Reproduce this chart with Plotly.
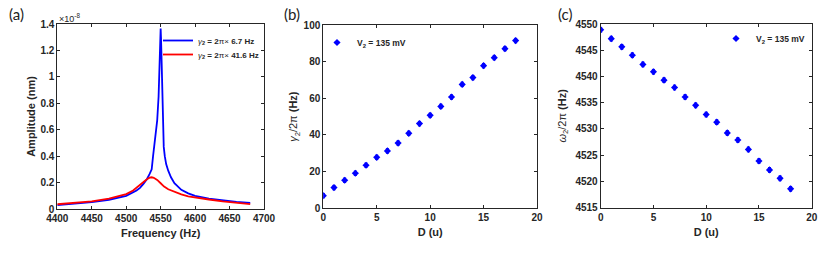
import plotly.graph_objects as go

# ---------------- data ----------------
# (a) amplitude spectra, amplitude in units of 1e-8 nm
freq_blue = [4400, 4425, 4450, 4475, 4500, 4515, 4520, 4525, 4530, 4534, 4537, 4539,
             4541, 4543, 4545, 4547, 4548.5, 4549.5, 4550, 4550.5, 4551.5, 4552.5,
             4553.5, 4554.5, 4556, 4558, 4561, 4565, 4570, 4580, 4590, 4600, 4620,
             4640, 4660, 4680]
amp_blue = [0.030, 0.040, 0.052, 0.070, 0.100, 0.140, 0.160, 0.190, 0.225, 0.265, 0.300, 0.400,
            0.480, 0.580, 0.670, 0.850, 1.100, 1.300, 1.365, 1.300, 1.100, 0.850,
            0.650, 0.470, 0.400, 0.340, 0.290, 0.240, 0.195, 0.145, 0.118, 0.100, 0.079,
            0.064, 0.053, 0.046]
freq_red = [4400, 4425, 4450, 4475, 4500, 4510, 4520, 4525, 4530, 4534, 4537, 4540,
            4545, 4550, 4555, 4561, 4570, 4580, 4590, 4600, 4620, 4640, 4660, 4680]
amp_red = [0.036, 0.045, 0.058, 0.078, 0.113, 0.140, 0.185, 0.205, 0.225, 0.237, 0.240, 0.236,
           0.220, 0.195, 0.170, 0.149, 0.128, 0.110, 0.096, 0.087, 0.072, 0.058, 0.046, 0.037]
label_blue = "<i>γ</i><b><sub>2</sub> = 2</b>π×<b> 6.7 Hz</b>"
label_red = "<i>γ</i><b><sub>2</sub> = 2</b>π×<b> 41.6 Hz</b>"

# (b), (c) versus D
D = [0, 1, 2, 3, 4, 5, 6, 7, 8, 9, 10, 11, 12, 13, 14, 15, 16, 17, 18]
gamma2 = [6.9, 11.3, 15.3, 19.1, 23.5, 27.8, 31.3, 35.6, 40.9, 46.2, 50.7, 55.6, 60.7,
          67.6, 71.3, 77.8, 82.2, 87.1, 91.5]
gamma2_err = [1.2] * 19
omega2 = [4548.9, 4547.2, 4545.65, 4544.05, 4542.3, 4540.9, 4539.3, 4537.9, 4536.1,
          4534.5, 4532.75, 4531.3, 4529.25, 4527.9, 4526.1, 4523.9, 4522.2, 4520.6, 4518.6]
omega2_err = [0.45] * 19
label_v = "<b>V<sub>2</sub> = 135 mV</b>"

xticks_a = [4400, 4450, 4500, 4550, 4600, 4650, 4700]
yticks_a = [0, 0.2, 0.4, 0.6, 0.8, 1, 1.2, 1.4]
yticktext_a = ["0", "0.2", "0.4", "0.6", "0.8", "1", "1.2", "1.4"]
xticks_bc = [0, 5, 10, 15, 20]
yticks_b = [0, 20, 40, 60, 80, 100]
yticks_c = [4515, 4520, 4525, 4530, 4535, 4540, 4545, 4550]

# ---------------- figure ----------------
W, H = 831, 255
def px(x):
    return x / W
def py(y):
    return 1 - y / H

INK = "#262626"
FONT = "Liberation Sans"
BLUE = "#0000FF"
RED = "#FF0000"

fig = go.Figure()
fig.add_trace(go.Scatter(x=freq_blue, y=amp_blue, mode="lines", line=dict(color=BLUE, width=1.8),
                         name=label_blue, xaxis="x", yaxis="y", legend="legend"))
fig.add_trace(go.Scatter(x=freq_red, y=amp_red, mode="lines", line=dict(color=RED, width=1.8),
                         name=label_red, xaxis="x", yaxis="y", legend="legend4"))
fig.add_trace(go.Scatter(x=D, y=gamma2, mode="markers", name=label_v,
                         marker=dict(symbol="diamond", size=5.5, color=BLUE),
                         error_y=dict(type="data", array=gamma2_err, color=BLUE, thickness=1, width=1.5),
                         xaxis="x2", yaxis="y2", legend="legend2"))
fig.add_trace(go.Scatter(x=D, y=omega2, mode="markers", name=label_v,
                         marker=dict(symbol="diamond", size=5.5, color=BLUE),
                         error_y=dict(type="data", array=omega2_err, color=BLUE, thickness=1, width=1.5),
                         xaxis="x3", yaxis="y3", legend="legend3"))

axis_common = dict(showline=True, linecolor=INK, linewidth=1, mirror="ticks", ticks="inside",
                   ticklen=3, tickcolor=INK, showgrid=False, zeroline=False, automargin=False,
                   tickfont=dict(family=FONT, size=10, color=INK, weight="bold"))
title_font = dict(family=FONT, size=11, color=INK, weight="bold")

def leg(x, y, size=8.5):
    return dict(x=px(x), y=py(y), xanchor="left", yanchor="top", bgcolor="rgba(0,0,0,0)",
                font=dict(family=FONT, size=size, color=INK), itemwidth=30, borderwidth=0)

fig.update_layout(
    width=W, height=H, margin=dict(l=0, r=0, t=0, b=0, pad=0), autosize=False,
    paper_bgcolor="white", plot_bgcolor="white",
    xaxis=dict(domain=[px(57.3), px(264)], range=[4400, 4700], tickvals=xticks_a,
               anchor="y", title=dict(text="Frequency (Hz)", font=title_font, standoff=6), **axis_common),
    yaxis=dict(domain=[py(209), py(24)], range=[0, 1.4], tickvals=yticks_a, ticktext=yticktext_a,
               anchor="x", title=dict(text="Amplitude (nm)", font=title_font, standoff=2), **axis_common),
    xaxis2=dict(domain=[px(323.3), px(537)], range=[0, 20], tickvals=xticks_bc,
                anchor="y2", title=dict(text="D (u)", font=title_font, standoff=6), **axis_common),
    yaxis2=dict(domain=[py(208.3), py(25)], range=[0, 100], tickvals=yticks_b,
                anchor="x2", title=dict(text="<i>γ</i><sub>2</sub>/2π <b>(Hz)</b>",
                                        font=dict(family=FONT, size=11, color=INK), standoff=3),
                **axis_common),
    xaxis3=dict(domain=[px(600.7), px(811.7)], range=[0, 20], tickvals=xticks_bc,
                anchor="y3", title=dict(text="D (u)", font=title_font, standoff=6), **axis_common),
    yaxis3=dict(domain=[py(207.7), py(24)], range=[4515, 4550], tickvals=yticks_c,
                anchor="x3", title=dict(text="<i>ω</i><sub>2</sub>/2π <b>(Hz)</b>",
                                        font=dict(family=FONT, size=11, color=INK), standoff=6),
                **axis_common),
    legend=leg(158, 26, 8),
    legend4=leg(158, 40, 8),
    legend2=leg(317, 28),
    legend3=leg(716, 24),
    showlegend=True,
)

panel_font = dict(family="Lato", size=15, color="#222222")
for txt, x in [("(a)", 7), ("(b)", 282), ("(c)", 556)]:
    fig.add_annotation(text=txt, x=px(x), y=py(14), xref="paper", yref="paper",
                       xanchor="left", yanchor="middle", showarrow=False, font=panel_font)
fig.add_annotation(text="×10<sup>-8</sup>", x=px(57), y=py(18), xref="paper", yref="paper",
                   xanchor="left", yanchor="middle", showarrow=False,
                   font=dict(family=FONT, size=9, color=INK))

fig.write_html("out.html", config={"displayModeBar": False},
               post_script="document.body.style.margin='0';document.body.style.overflow='hidden';")
